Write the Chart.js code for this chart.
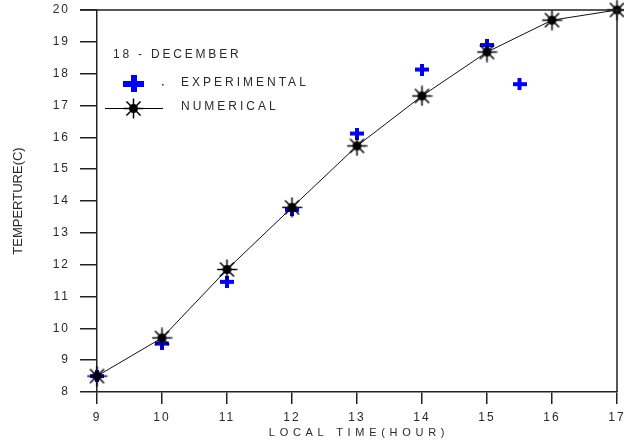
<!DOCTYPE html>
<html>
<head>
<meta charset="utf-8">
<script src="https://cdn.jsdelivr.net/npm/chart.js@4/dist/chart.umd.min.js"></script>
<style>
  html, body { margin: 0; padding: 0; background: #fff; }
  #wrap { width: 624px; height: 443px; }
</style>
</head>
<body>
<div id="wrap"><canvas id="grafik"></canvas></div>
<script>
// data
const jamNumerik = [9, 10, 11, 12, 13, 14, 15, 16, 17];
const suhuNumerik = [8.5, 9.7, 11.85, 13.8, 15.73, 17.3, 18.68, 19.68, 20.0];
const jamEksperimen = [9, 10, 11, 12, 13, 14, 15, 15.5];
const suhuEksperimen = [8.5, 9.52, 11.46, 13.72, 16.12, 18.13, 18.9, 17.67];
const tickX = [9, 10, 11, 12, 13, 14, 15, 16, 17];
const tickY = [8, 9, 10, 11, 12, 13, 14, 15, 16, 17, 18, 19, 20];

const warnaTeks = "#2a2a2a";
const hurufUtama = "'Liberation Sans', Arial, sans-serif";

// bikin simbol plus biru
function buatPlus(lebar, tinggi, tebal) {
  const c = document.createElement("canvas");
  c.width = lebar; c.height = tinggi;
  const g = c.getContext("2d");
  g.fillStyle = "#0000ff";
  g.fillRect(0, Math.round((tinggi - tebal) / 2), lebar, tebal);
  g.fillRect(Math.round((lebar - tebal) / 2), 0, tebal, tinggi);
  return c;
}

// bikin simbol bintang (asterisk) hitam
function buatBintang(ukuran) {
  const c = document.createElement("canvas");
  c.width = ukuran; c.height = ukuran;
  const g = c.getContext("2d");
  const m = ukuran / 2;
  g.strokeStyle = "#000";
  g.lineWidth = 1.5;
  for (let i = 0; i < 8; i++) {
    const a = i * Math.PI / 4;
    g.beginPath();
    g.moveTo(m, m);
    g.lineTo(m + Math.cos(a) * (m - 0.5), m + Math.sin(a) * (m - 0.5));
    g.stroke();
  }
  g.fillStyle = "#000";
  g.beginPath();
  g.arc(m, m, 4.5, 0, Math.PI * 2);
  g.fill();
  return c;
}

const plusKecil = buatPlus(14, 12, 4);
const plusBesar = buatPlus(21, 17, 6);
const bintang = buatBintang(21);

const bingkai = {
  id: "bingkai",
  beforeDraw(chart) {
    chart.ctx.letterSpacing = "2px";
  },
  afterDraw(chart) {
    const ctx = chart.ctx;
    const a = chart.chartArea;
    ctx.save();
    ctx.strokeStyle = "#222";
    ctx.lineWidth = 1.5;
    ctx.beginPath();
    ctx.moveTo(a.left - 17, a.top);
    ctx.lineTo(chart.width, a.top);
    ctx.moveTo(a.right, a.top);
    ctx.lineTo(a.right, a.bottom);
    ctx.stroke();

    ctx.fillStyle = warnaTeks;
    ctx.textBaseline = "middle";

    // judul sumbu x
    ctx.font = "11px " + hurufUtama;
    ctx.letterSpacing = "4.7px";
    ctx.textAlign = "center";
    ctx.fillText("LOCAL TIME(HOUR)", (a.left + a.right) / 2 + 2, 433);

    // judul sumbu y
    ctx.save();
    ctx.translate(18, (a.top + a.bottom) / 2);
    ctx.rotate(-Math.PI / 2);
    ctx.font = "13px " + hurufUtama;
    ctx.letterSpacing = "0px";
    ctx.fillText("TEMPERTURE(C)", 0, 0);
    ctx.restore();

    // legenda manual
    ctx.textAlign = "left";
    ctx.font = "12px " + hurufUtama;
    ctx.letterSpacing = "2.8px";
    ctx.fillText("18 - DECEMBER", 113, 55);
    ctx.letterSpacing = "3px";
    ctx.drawImage(plusBesar, 123, 75);
    ctx.fillRect(162, 84, 1.5, 1.5);
    ctx.fillText("EXPERIMENTAL", 181, 83);
    ctx.strokeStyle = "#000";
    ctx.lineWidth = 1;
    ctx.beginPath();
    ctx.moveTo(105, 108.5);
    ctx.lineTo(163, 108.5);
    ctx.stroke();
    ctx.drawImage(bintang, 123, 98);
    ctx.fillText("NUMERICAL", 181, 107);
    ctx.restore();
  }
};

const ctx = document.getElementById("grafik").getContext("2d");
const grafik = new Chart(ctx, {
  type: "scatter",
  data: {
    datasets: [
      {
        label: "NUMERICAL",
        data: jamNumerik.map((x, i) => ({ x: x, y: suhuNumerik[i] })),
        showLine: true,
        clip: false,
        borderColor: "#111",
        borderWidth: 1,
        tension: 0,
        pointStyle: bintang,
        pointRadius: 10,
      },
      {
        label: "EXPERIMENTAL",
        data: jamEksperimen.map((x, i) => ({ x: x, y: suhuEksperimen[i] })),
        showLine: false,
        clip: false,
        pointStyle: plusKecil,
        pointRadius: 7,
      }
    ]
  },
  options: {
    responsive: true,
    maintainAspectRatio: false,
    animation: false,
    events: [],
    layout: { autoPadding: false, padding: { top: 10, right: 7, left: 0, bottom: 0 } },
    plugins: {
      legend: { display: false },
      tooltip: { enabled: false }
    },
    scales: {
      x: {
        type: "linear",
        min: 9,
        max: 17,
        afterBuildTicks: (s) => { s.ticks = tickX.map(v => ({ value: v })); },
        afterFit: (s) => { s.height = 51; s.paddingLeft = 0; s.paddingRight = 0; },
        border: { color: "#222", width: 1.5 },
        grid: { drawOnChartArea: false, drawTicks: true, tickLength: 12, color: "#222", lineWidth: 1.5 },
        ticks: { color: warnaTeks, padding: 6, font: { size: 12, family: hurufUtama } }
      },
      y: {
        type: "linear",
        min: 8,
        max: 20,
        afterBuildTicks: (s) => { s.ticks = tickY.map(v => ({ value: v })); },
        afterFit: (s) => { s.width = 97; s.paddingTop = 0; s.paddingBottom = 0; },
        border: { color: "#222", width: 1.5 },
        grid: { drawOnChartArea: false, drawTicks: true, tickLength: 17, color: "#222", lineWidth: 1.5 },
        ticks: { color: warnaTeks, padding: 10, font: { size: 12, family: hurufUtama } }
      }
    }
  },
  plugins: [bingkai]
});
</script>
</body>
</html>
